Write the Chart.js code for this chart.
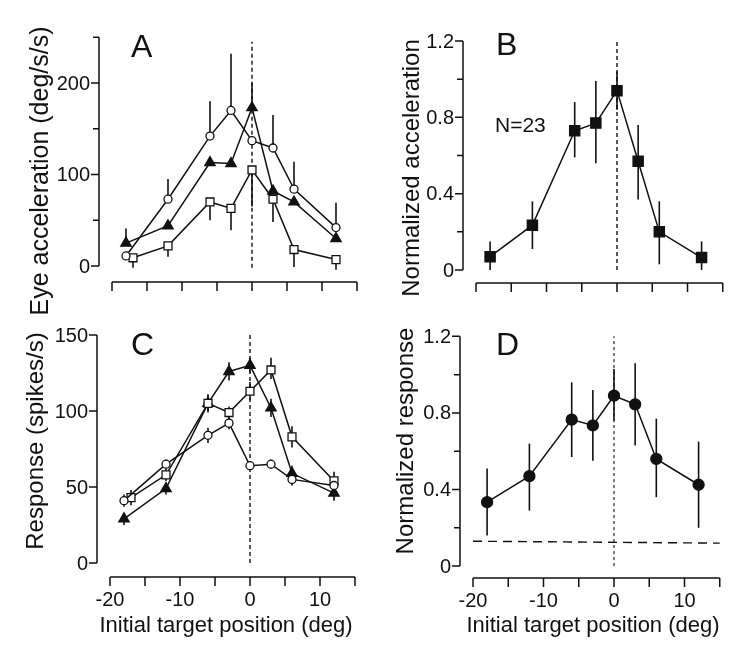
<!DOCTYPE html>
<html lang="en">
<head>
<meta charset="UTF-8">
<title>Initial target position tuning</title>
<script src="https://cdn.jsdelivr.net/npm/chart.js"></script>
<style>
  body { margin: 0; background: #fff; }
  #wrap { position: relative; width: 750px; height: 651px; }
  #wrap canvas { position: absolute; }
</style>
</head>
<body>
<div id="wrap">
  <canvas id="chartA" width="375" height="320" style="left:0;top:0"></canvas>
  <canvas id="chartB" width="375" height="320" style="left:375px;top:0"></canvas>
  <canvas id="chartC" width="375" height="331" style="left:0;top:320px"></canvas>
  <canvas id="chartD" width="375" height="331" style="left:375px;top:320px"></canvas>
</div>
<script>
// --- data ---
const positions = [-18, -12, -6, -3, 0, 3, 6, 12];
const positionsSq = [-17, -12, -6, -3, 0, 3, 6, 12];   // open squares sit a bit right at -18

// A: eye acceleration (deg/s/s)
const accCircle = [11, 73, 142, 170, 137, 129, 84, 42];
const accCircleHi = [null, 95, 180, 232, null, 165, 114, 69];
const accTri = [25, 44, 113, 112, 173, 82, 70, 30];
const accTriHi = [41, null, null, null, 200, null, null, null];
const accSquare = [9, 22, 70, 63, 105, 73, 18, 7];
const accSquareLo = [-2, 10, 50, 39, 65, 48, -1, -4];

// B: normalized acceleration, N=23
const normAcc = [0.07, 0.235, 0.73, 0.77, 0.94, 0.57, 0.2, 0.065];
const normAccLo = [0.0, 0.11, 0.59, 0.56, 0.84, 0.37, 0.03, 0.0];
const normAccHi = [0.15, 0.36, 0.88, 0.99, 1.04, 0.76, 0.36, 0.15];

// C: response (spikes/s)
const respCircle = [41, 65, 84, 92, 64, 65, 55, 51];
const respCircleLo = [37, 62, 79, 88, 61, 62, 51, 47];
const respCircleHi = [45, 68, 89, 96, 67, 68, 59, 55];
const respSquare = [43, 58, 105, 99, 113, 127, 83, 54];
const respSquareLo = [38, 54, 100, 95, 107, 121, 76, 48];
const respSquareHi = [48, 62, 110, 103, 119, 135, 90, 60];
const respTri = [29, 49, 105, 126, 130, 102, 59, 46];
const respTriLo = [25, 45, 99, 120, 125, 96, 54, 41];
const respTriHi = [33, 53, 111, 132, 135, 108, 64, 51];

// D: normalized response
const normResp = [0.334, 0.47, 0.765, 0.735, 0.89, 0.845, 0.56, 0.425];
const normRespLo = [0.16, 0.29, 0.57, 0.55, 0.76, 0.63, 0.36, 0.2];
const normRespHi = [0.51, 0.64, 0.96, 0.92, 1.03, 1.06, 0.77, 0.65];
const baseline = [0.13, 0.12];

// ticks
const xTicks = [-20, -15, -10, -5, 0, 5, 10, 15];
const xTickLabels = [-20, -10, 0, 10];
const accTicks = [0, 100, 200];
const accMinor = [50, 150, 250];
const respTicks = [0, 50, 100, 150];
const normTicks = [0, 0.4, 0.8, 1.2];
const normMinor = [0.2, 0.6, 1.0];

const FONT = '"Liberation Sans", Arial, Helvetica, sans-serif';
const INK = '#111';

function pts(xs, ys) {
  return ys.map((v, i) => ({ x: xs[i], y: v }));
}

function series(xs, ys, style, radius, fill, lo, hi) {
  return {
    data: pts(xs, ys),
    showLine: true,
    borderColor: INK,
    borderWidth: 1.5,
    pointStyle: style,
    pointRadius: radius,
    pointBackgroundColor: fill,
    pointBorderColor: INK,
    pointBorderWidth: 1.3,
    order: 0,
    clip: false,
    errLo: lo,
    errHi: hi
  };
}

function dashed(xs, ys, dash, width) {
  return {
    data: pts(xs, ys),
    showLine: true,
    borderColor: INK,
    borderWidth: width,
    borderDash: dash,
    pointRadius: 0,
    order: 10,
    clip: false
  };
}

// error bars under the markers
const errorBars = {
  id: 'errorBars',
  beforeDatasetsDraw(chart) {
    const { ctx, scales: { x, y } } = chart;
    ctx.save();
    ctx.strokeStyle = INK;
    ctx.lineWidth = 1.6;
    chart.data.datasets.forEach(ds => {
      if (!ds.errLo && !ds.errHi) return;
      ds.data.forEach((p, i) => {
        const lo = ds.errLo ? ds.errLo[i] : null;
        const hi = ds.errHi ? ds.errHi[i] : null;
        if (lo == null && hi == null) return;
        const px = x.getPixelForValue(p.x);
        ctx.beginPath();
        ctx.moveTo(px, y.getPixelForValue(hi == null ? p.y : hi));
        ctx.lineTo(px, y.getPixelForValue(lo == null ? p.y : lo));
        ctx.stroke();
      });
    });
    ctx.restore();
  }
};

// detached axes, labels, titles
function frame(cfg) {
  return {
    id: 'frame',
    afterDraw(chart) {
      const { ctx, scales: { x, y } } = chart;
      ctx.save();
      ctx.strokeStyle = INK;
      ctx.fillStyle = INK;
      ctx.lineWidth = 1.5;

      // y axis
      const ax = x.getPixelForValue(xTicks[0]) - 13;
      ctx.beginPath();
      ctx.moveTo(ax, y.getPixelForValue(0));
      ctx.lineTo(ax, y.getPixelForValue(cfg.yTop));
      cfg.yTicks.forEach(v => {
        ctx.moveTo(ax, y.getPixelForValue(v));
        ctx.lineTo(ax - 8, y.getPixelForValue(v));
      });
      cfg.yMinor.forEach(v => {
        ctx.moveTo(ax, y.getPixelForValue(v));
        ctx.lineTo(ax - 6, y.getPixelForValue(v));
      });
      ctx.stroke();
      ctx.font = '20px ' + FONT;
      ctx.textAlign = 'right';
      ctx.textBaseline = 'middle';
      cfg.yTicks.forEach(v => {
        ctx.fillText(cfg.fmt(v), ax - 9, y.getPixelForValue(v) + 1);
      });

      // x axis
      const ay = y.getPixelForValue(0) + cfg.xGap;
      ctx.beginPath();
      ctx.moveTo(x.getPixelForValue(xTicks[0]), ay);
      ctx.lineTo(x.getPixelForValue(xTicks[xTicks.length - 1]), ay);
      xTicks.forEach(v => {
        ctx.moveTo(x.getPixelForValue(v), ay);
        ctx.lineTo(x.getPixelForValue(v), ay + 9);
      });
      ctx.stroke();
      if (cfg.xTitle) {
        ctx.textAlign = 'center';
        ctx.textBaseline = 'alphabetic';
        xTickLabels.forEach(v => {
          ctx.fillText(String(v), x.getPixelForValue(v), ay + 29);
        });
        ctx.font = '22px ' + FONT;
        ctx.fillText(cfg.xTitle, cfg.xTitleX, cfg.xTitleY);
      }

      // y title
      ctx.save();
      ctx.font = cfg.yTitleSize + 'px ' + FONT;
      ctx.textAlign = 'center';
      ctx.textBaseline = 'alphabetic';
      ctx.translate(cfg.yTitleX, cfg.yTitleY);
      ctx.rotate(-Math.PI / 2);
      ctx.fillText(cfg.yTitle, 0, 0);
      ctx.restore();

      // panel letter
      ctx.font = '32px ' + FONT;
      ctx.textAlign = 'left';
      ctx.textBaseline = 'alphabetic';
      ctx.fillText(cfg.letter, cfg.letterX, cfg.letterY);

      if (cfg.note) {
        ctx.font = '21px ' + FONT;
        ctx.fillText(cfg.note, cfg.noteX, cfg.noteY);
      }
      ctx.restore();
    }
  };
}

function makeChart(id, datasets, range, pad, cfg) {
  return new Chart(document.getElementById(id), {
    type: 'scatter',
    data: { datasets },
    options: {
      responsive: false,
      animation: false,
      layout: { padding: pad },
      plugins: { legend: { display: false }, tooltip: { enabled: false } },
      scales: {
        x: { type: 'linear', display: false, min: range[0], max: range[1] },
        y: { type: 'linear', display: false, min: range[2], max: range[3] }
      }
    },
    plugins: [errorBars, frame(cfg)]
  });
}

const fmtInt = v => String(v);
const fmtNorm = v => (v === 0 ? '0' : v.toFixed(1));

// A
makeChart('chartA', [
  dashed([0, 0], [-2, 245], [4, 3], 1.4),
  series(positions, accCircle, 'circle', 4, '#fff', null, accCircleHi),
  series(positions, accTri, 'triangle', 6, INK, null, accTriHi),
  series(positionsSq, accSquare, 'rect', 5.6, '#fff', accSquareLo, null)
], [-22, 16, -20, 255], { left: 98, right: 11, top: 32.7, bottom: 35.7 }, {
  yTop: 250, yTicks: accTicks, yMinor: accMinor, fmt: fmtInt, xGap: 16,
  yTitle: 'Eye acceleration (deg/s/s)', yTitleSize: 25, yTitleX: 48, yTitleY: 171,
  letter: 'A', letterX: 131, letterY: 57
});

// B
makeChart('chartB', [
  dashed([0, 0], [0, 1.195], [4, 3], 1.4),
  series(positions, normAcc, 'rect', 7.2, INK, normAccLo, normAccHi)
], [-22, 16, -0.1, 1.25], { left: 86.9, right: 20.2, top: 31.5, bottom: 30.9 }, {
  yTop: 1.2, yTicks: normTicks, yMinor: normMinor, fmt: fmtNorm, xGap: 13,
  yTitle: 'Normalized acceleration', yTitleSize: 24, yTitleX: 44, yTitleY: 168,
  letter: 'B', letterX: 121, letterY: 55,
  note: 'N=23', noteX: 120, noteY: 132
});

// C
makeChart('chartC', [
  dashed([0, 0], [0, 150], [4, 3], 1.4),
  series(positions, respCircle, 'circle', 4, '#fff', respCircleLo, respCircleHi),
  series(positionsSq, respSquare, 'rect', 5.6, '#fff', respSquareLo, respSquareHi),
  series(positions, respTri, 'triangle', 6, INK, respTriLo, respTriHi)
], [-22, 16, -10, 155], { left: 96, right: 13, top: 7.4, bottom: 72.8 }, {
  yTop: 150, yTicks: respTicks, yMinor: [], fmt: fmtInt, xGap: 14,
  yTitle: 'Response (spikes/s)', yTitleSize: 24, yTitleX: 43, yTitleY: 121,
  letter: 'C', letterX: 131, letterY: 35,
  xTitle: 'Initial target position (deg)', xTitleX: 226, xTitleY: 312
});

// D
makeChart('chartD', [
  dashed([0, 0], [0, 1.2], [3, 3], 1.1),
  dashed([-20, 15], baseline, [9, 6], 1.4),
  series(positions, normResp, 'circle', 5.5, INK, normRespLo, normRespHi)
], [-22, 16, -0.1, 1.25], { left: 83.9, right: 23.2, top: 5.4, bottom: 65.75 }, {
  yTop: 1.2, yTicks: normTicks, yMinor: normMinor, fmt: fmtNorm, xGap: 12,
  yTitle: 'Normalized response', yTitleSize: 24, yTitleX: 38, yTitleY: 121,
  letter: 'D', letterX: 121, letterY: 35,
  xTitle: 'Initial target position (deg)', xTitleX: 218, xTitleY: 312
});
</script>
</body>
</html>
